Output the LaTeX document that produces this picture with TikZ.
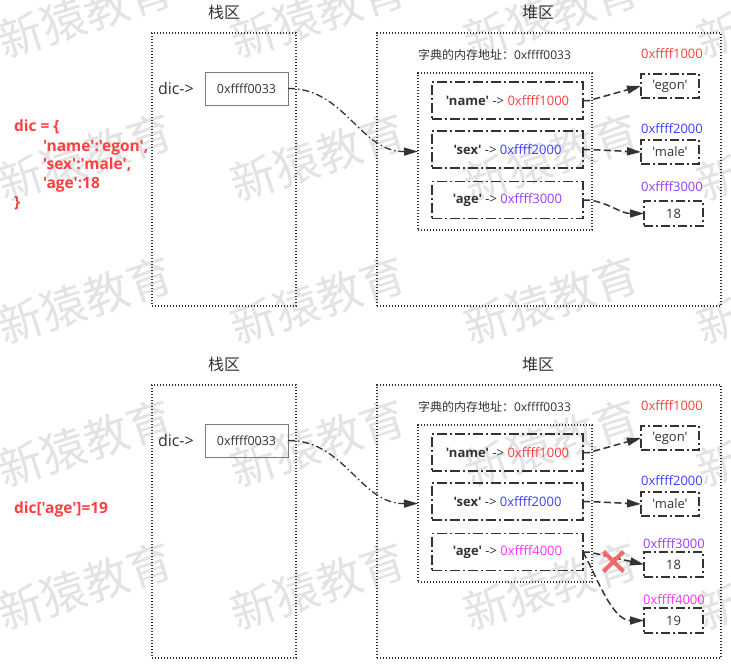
\documentclass[tikz,border=0pt]{standalone}
\usepackage{fontspec}
\newfontfamily\osans{Open Sans}
\newfontfamily\cjk{Noto Sans CJK SC}
\usetikzlibrary{arrows.meta,calc}
\definecolor{ink}{HTML}{333333}
\definecolor{boxgray}{HTML}{7A7A7A}
\definecolor{cred}{HTML}{FF4040}
\definecolor{cblue}{HTML}{3F3FFF}
\definecolor{cpurple}{HTML}{9B3CFF}
\definecolor{cmag}{HTML}{FF33FF}
\definecolor{crossred}{HTML}{F06A6A}
\definecolor{wmgray}{HTML}{E3E3E3}
\newcommand\fs[1]{\fontsize{#1}{#1}\selectfont}
\begin{document}
\begin{tikzpicture}[x=1pt,y=-1pt,
  every node/.style={inner sep=0pt, outer sep=0pt},
  lbl/.style={font=\osans\fs{#1}, text=ink},
  cjklbl/.style={font=\cjk\fs{#1}, text=ink},
  code/.style={font=\osans\bfseries\fs{15.5}, text=cred, anchor=west, text height=11pt, text depth=3.5pt},
  wmark/.style={font=\cjk\fs{45}, text=wmgray, rotate=18},
  zone/.style={draw=ink, line width=1.3pt, dash pattern=on 1.3pt off 1.7pt},
  addrbox/.style={draw=boxgray, line width=0.9pt, minimum width=83pt, minimum height=33pt, font=\osans\fs{12.5}, text=ink},
  entrybox/.style={draw=ink, line width=1.5pt, dash pattern=on 10pt off 3pt on 2pt off 3pt, minimum width=151pt, minimum height=37pt, font=\osans\fs{13}, text=ink},
  valbox/.style={draw=ink, line width=1.5pt, dash pattern=on 9pt off 3pt on 2pt off 3pt, minimum width=58pt, minimum height=24pt, font=\osans\fs{13}, text=ink},
  addrlbl/.style={font=\osans\fs{13}},
  mainlink/.style={draw=ink, line width=1.3pt, dash pattern=on 7pt off 3pt on 1.5pt off 3pt, -{Triangle[length=14pt,width=8pt]}},
  link/.style={draw=ink, line width=1.5pt, dash pattern=on 7pt off 3.5pt, -{Triangle[length=14pt,width=8pt]}},
  cross/.style={draw=crossred, line width=4pt}
]
\useasboundingbox (0,0) rectangle (731,672);
\fill[white] (0,0) rectangle (731,672);

% watermark
\foreach \wx in {85,318,551,784}{
  \foreach \wy in {14,157,300,443,586}{
    \node[wmark] (wm-\wx-\wy) at (\wx,\wy) {新猿教育};
  }
}

% ================= TOP =================
\node[cjklbl=16] (tstackT) at (224,12) {栈区};
\node[cjklbl=16] (theapT) at (538,12) {堆区};
\node[zone, minimum width=144pt, minimum height=273pt] (tstack) at (224,169.5) {};
\node[zone, minimum width=344pt, minimum height=273pt] (theap) at (549,169.5) {};
\node[lbl=16, anchor=west] (tdic) at (158,88) {dic->};
\node[addrbox] (taddr) at (246.5,88.5) {0xffff0033};
\node[anchor=west, text=ink] (tmem) at (418,55) {\cjk\fs{12}字典的内存地址：\osans 0xffff0033};
\node[zone, minimum width=174pt, minimum height=157pt] (tdict) at (505,151.5) {};
\node[entrybox] (tname) at (507.5,100.5) {\textbf{'name'} -> \textcolor{cred}{0xffff1000}};
\node[entrybox] (tsex) at (507.5,149.5) {\textbf{'sex'} -> \textcolor{cblue}{0xffff2000}};
\node[entrybox] (tage) at (507.5,200) {\textbf{'age'} -> \textcolor{cpurple}{0xffff3000}};
\node[valbox] (tegon) at (670,86) {'egon'};
\node[valbox] (tmale) at (670,152) {'male'};
\node[valbox, minimum width=59pt, minimum height=25pt] (t18) at (673.5,213.5) {18};
\node[addrlbl, text=cred] (tl1) at (672,54) {0xffff1000};
\node[addrlbl, text=cblue] (tl2) at (672,129) {0xffff2000};
\node[addrlbl, text=cpurple] (tl3) at (672,187) {0xffff3000};

\node[code] (c1) at (14,128) {dic = \{};
\node[code] (c2) at (43,148) {'name':'egon',};
\node[code] (c3) at (43,166) {'sex':'male',};
\node[code] (c4) at (43,185) {'age':18};
\node[code] (c5) at (14,204) {\}};

\draw[mainlink] (taddr.east) .. controls (345,88) and (360,152) .. (tdict.west);
\draw[link] (tname.east) -- ++(6,0) -- (tegon.west);
\draw[link] (tsex.east) -- ++(6,0) -- (tmale.west);
\draw[link] (tage.east) -- ++(6,0) .. controls (610,203) and (620,213.5) .. (t18.west);

% ================= BOTTOM =================
\node[cjklbl=16] (bstackT) at (224,364) {栈区};
\node[cjklbl=16] (bheapT) at (538,364) {堆区};
\node[zone, minimum width=144pt, minimum height=273pt] (bstack) at (224,521.5) {};
\node[zone, minimum width=344pt, minimum height=273pt] (bheap) at (549,521.5) {};
\node[lbl=16, anchor=west] (bdic) at (158,440) {dic->};
\node[addrbox] (baddr) at (246.5,440.5) {0xffff0033};
\node[anchor=west, text=ink] (bmem) at (418,407) {\cjk\fs{12}字典的内存地址：\osans 0xffff0033};
\node[zone, minimum width=174pt, minimum height=157pt] (bdict) at (505,503.5) {};
\node[entrybox] (bname) at (507.5,452.5) {\textbf{'name'} -> \textcolor{cred}{0xffff1000}};
\node[entrybox] (bsex) at (507.5,501.5) {\textbf{'sex'} -> \textcolor{cblue}{0xffff2000}};
\node[entrybox] (bage) at (507.5,552) {\textbf{'age'} -> \textcolor{cmag}{0xffff4000}};
\node[valbox] (begon) at (670,438) {'egon'};
\node[valbox] (bmale) at (670,504) {'male'};
\node[valbox, minimum width=59pt, minimum height=25pt] (b18) at (673.5,564.5) {18};
\node[valbox, minimum width=59pt, minimum height=25pt] (b19) at (673.5,620.5) {19};
\node[addrlbl, text=cred] (bl1) at (672,406) {0xffff1000};
\node[addrlbl, text=cblue] (bl2) at (672,481) {0xffff2000};
\node[addrlbl, text=cpurple] (bl3) at (674,544) {0xffff3000};
\node[addrlbl, text=cmag] (bl4) at (674,600) {0xffff4000};

\node[code] (c6) at (14,510) {dic['age']=19};

\draw[mainlink] (baddr.east) .. controls (345,440) and (360,504) .. (bdict.west);
\draw[link] (bname.east) -- ++(6,0) -- (begon.west);
\draw[link] (bsex.east) -- ++(6,0) -- (bmale.west);
\draw[link] (bage.east) -- ++(6,0) -- (b18.west);
\draw[link] (bage.east) .. controls (597,577) and (612,620.5) .. (b19.west);

\coordinate (xc) at (613.5,561.5);
\draw[cross] ($(xc)+(-10,-10)$) -- ($(xc)+(10,10)$);
\draw[cross] ($(xc)+(-10,10)$) -- ($(xc)+(10,-10)$);
\end{tikzpicture}
\end{document}
